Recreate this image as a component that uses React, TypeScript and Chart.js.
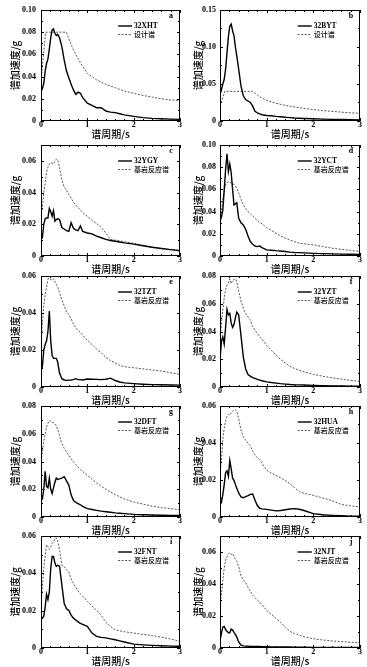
import React, { useEffect, useRef } from 'react';
import { Chart, registerables } from 'chart.js';

Chart.register(...registerables);

// Shared period grid (s)
const periods = [0, 0.03, 0.06, 0.09, 0.12, 0.15, 0.18, 0.21, 0.24, 0.27, 0.3, 0.33, 0.36, 0.4, 0.45, 0.5, 0.55, 0.6, 0.65, 0.7, 0.75, 0.8, 0.85, 0.9, 1.0, 1.1, 1.2, 1.3, 1.4, 1.5, 1.6, 1.7, 1.8, 2.0, 2.2, 2.4, 2.6, 2.8, 3.0];

// Design spectra (a, b)
const designPeriodsA = [0, 0.1, 0.55, 0.6, 0.7, 0.8, 0.9, 1.0, 1.2, 1.4, 1.6, 1.8, 2.0, 2.2, 2.4, 2.6, 2.8, 3.0];
const designA = [0.036, 0.08, 0.08, 0.074, 0.064, 0.056, 0.049, 0.043, 0.037, 0.033, 0.03, 0.027, 0.025, 0.023, 0.0215, 0.02, 0.019, 0.0185];
const designPeriodsB = [0, 0.1, 0.7, 0.8, 0.9, 1.0, 1.2, 1.4, 1.6, 1.8, 2.0, 2.2, 2.4, 2.6, 2.8, 3.0];
const designB = [0.02, 0.04, 0.04, 0.035, 0.031, 0.028, 0.024, 0.021, 0.019, 0.017, 0.0155, 0.014, 0.013, 0.012, 0.011, 0.0105];

// Station records
const recA = [0.027, 0.029, 0.034, 0.045, 0.052, 0.056, 0.065, 0.075, 0.082, 0.083, 0.079, 0.077, 0.078, 0.075, 0.067, 0.055, 0.045, 0.039, 0.033, 0.028, 0.024, 0.026, 0.025, 0.021, 0.016, 0.014, 0.012, 0.012, 0.009, 0.008, 0.0075, 0.0065, 0.0055, 0.0042, 0.003, 0.0024, 0.002, 0.0017, 0.0015];
const recB = [0.035, 0.042, 0.05, 0.056, 0.07, 0.092, 0.114, 0.128, 0.131, 0.122, 0.115, 0.1, 0.088, 0.07, 0.047, 0.034, 0.029, 0.027, 0.025, 0.02, 0.013, 0.011, 0.0095, 0.0085, 0.0075, 0.007, 0.0063, 0.0058, 0.005, 0.0045, 0.004, 0.0037, 0.0034, 0.003, 0.0026, 0.0022, 0.002, 0.0017, 0.0015];
const recC = [0.0105, 0.0115, 0.02, 0.0235, 0.024, 0.024, 0.03, 0.028, 0.025, 0.0285, 0.022, 0.023, 0.0235, 0.023, 0.018, 0.017, 0.016, 0.0155, 0.021, 0.0175, 0.0165, 0.016, 0.019, 0.0155, 0.0145, 0.014, 0.0125, 0.0115, 0.0105, 0.0098, 0.0093, 0.0088, 0.0083, 0.0075, 0.0065, 0.0055, 0.0047, 0.004, 0.0033];
const recD = [0.031, 0.035, 0.041, 0.059, 0.078, 0.092, 0.076, 0.083, 0.075, 0.06, 0.046, 0.047, 0.048, 0.034, 0.03, 0.028, 0.024, 0.018, 0.013, 0.0105, 0.009, 0.0085, 0.009, 0.0075, 0.0055, 0.0052, 0.0048, 0.0045, 0.004, 0.0035, 0.0032, 0.003, 0.0028, 0.0024, 0.0021, 0.0019, 0.0017, 0.0016, 0.0015];
const recE = [0.009, 0.011, 0.02, 0.023, 0.025, 0.03, 0.041, 0.025, 0.017, 0.0155, 0.0155, 0.0155, 0.0135, 0.0075, 0.0045, 0.0038, 0.0036, 0.0037, 0.0038, 0.004, 0.0045, 0.004, 0.004, 0.0038, 0.0043, 0.0042, 0.0041, 0.004, 0.0042, 0.0048, 0.0035, 0.0027, 0.0022, 0.0018, 0.0015, 0.0013, 0.0012, 0.0011, 0.001];
const recF = [0.019, 0.033, 0.036, 0.031, 0.043, 0.056, 0.052, 0.053, 0.046, 0.043, 0.045, 0.05, 0.054, 0.052, 0.037, 0.0216, 0.013, 0.009, 0.0078, 0.0068, 0.0062, 0.0055, 0.005, 0.0045, 0.0037, 0.0032, 0.0028, 0.0024, 0.0021, 0.0018, 0.0016, 0.0015, 0.0014, 0.0012, 0.001, 0.0008, 0.0007, 0.0006, 0.0005];
const recG = [0.012, 0.013, 0.02, 0.033, 0.022, 0.021, 0.028, 0.02, 0.017, 0.021, 0.025, 0.028, 0.027, 0.0275, 0.028, 0.029, 0.026, 0.023, 0.016, 0.012, 0.0105, 0.0097, 0.0088, 0.0077, 0.006, 0.0054, 0.0048, 0.0042, 0.0038, 0.0034, 0.003, 0.0027, 0.0024, 0.0019, 0.0016, 0.0014, 0.0013, 0.0012, 0.0012];
const recH = [0.0063, 0.0078, 0.012, 0.0175, 0.024, 0.025, 0.022, 0.0305, 0.026, 0.021, 0.0198, 0.0175, 0.0155, 0.013, 0.0108, 0.0104, 0.011, 0.0115, 0.0122, 0.0124, 0.009, 0.0062, 0.0047, 0.0044, 0.0041, 0.0037, 0.0033, 0.0035, 0.0039, 0.0043, 0.0045, 0.0042, 0.0035, 0.0018, 0.0012, 0.0009, 0.0007, 0.0005, 0.0004];
const recI = [0.0155, 0.016, 0.017, 0.022, 0.0288, 0.026, 0.03, 0.0427, 0.049, 0.049, 0.0455, 0.0437, 0.0443, 0.0438, 0.0338, 0.024, 0.021, 0.0202, 0.0176, 0.016, 0.015, 0.014, 0.0132, 0.0127, 0.0116, 0.008, 0.0062, 0.0057, 0.0054, 0.0049, 0.0044, 0.0038, 0.0032, 0.0021, 0.0017, 0.0014, 0.0012, 0.001, 0.0009];
const recJ = [0.0047, 0.009, 0.013, 0.0135, 0.0115, 0.0105, 0.0095, 0.0095, 0.0118, 0.0112, 0.0098, 0.0085, 0.0068, 0.0038, 0.0018, 0.0013, 0.0012, 0.0011, 0.001, 0.001, 0.0009, 0.0009, 0.0009, 0.0008, 0.0008, 0.0007, 0.0007, 0.0006, 0.0006, 0.0006, 0.0005, 0.0005, 0.0005, 0.0004, 0.0004, 0.0004, 0.0003, 0.0003, 0.0003];

// Bedrock response spectra (c - j)
const rockC = [0.027, 0.03, 0.04, 0.046, 0.053, 0.056, 0.058, 0.059, 0.0585, 0.058, 0.06, 0.061, 0.0605, 0.056, 0.048, 0.0435, 0.0415, 0.039, 0.0365, 0.034, 0.032, 0.0305, 0.029, 0.0275, 0.025, 0.0225, 0.0205, 0.018, 0.0145, 0.0105, 0.01, 0.0095, 0.009, 0.008, 0.0068, 0.0056, 0.0047, 0.004, 0.0035];
const rockD = [0.032, 0.04, 0.052, 0.059, 0.064, 0.066, 0.067, 0.0665, 0.066, 0.065, 0.0645, 0.063, 0.061, 0.057, 0.051, 0.046, 0.043, 0.04, 0.038, 0.036, 0.034, 0.032, 0.03, 0.029, 0.0255, 0.023, 0.0205, 0.018, 0.016, 0.0144, 0.013, 0.0115, 0.011, 0.01, 0.0085, 0.007, 0.006, 0.005, 0.0042];
const rockE = [0.024, 0.034, 0.044, 0.05, 0.054, 0.058, 0.06, 0.058, 0.0578, 0.0585, 0.0568, 0.0555, 0.054, 0.051, 0.047, 0.044, 0.0405, 0.039, 0.037, 0.034, 0.032, 0.0305, 0.0295, 0.028, 0.0252, 0.023, 0.0205, 0.0185, 0.016, 0.0143, 0.013, 0.0117, 0.011, 0.0104, 0.0098, 0.0092, 0.0086, 0.0077, 0.0068];
const rockF = [0.035, 0.045, 0.055, 0.064, 0.07, 0.0735, 0.075, 0.078, 0.0745, 0.0765, 0.0775, 0.078, 0.0757, 0.069, 0.062, 0.0565, 0.053, 0.0505, 0.0485, 0.0435, 0.041, 0.0385, 0.0362, 0.0345, 0.03, 0.0265, 0.023, 0.0198, 0.0172, 0.0149, 0.0133, 0.0121, 0.011, 0.0091, 0.0078, 0.0066, 0.0056, 0.0048, 0.004];
const rockG = [0.04, 0.047, 0.055, 0.06, 0.065, 0.0675, 0.0695, 0.069, 0.068, 0.068, 0.0672, 0.066, 0.063, 0.0585, 0.053, 0.0495, 0.047, 0.0445, 0.042, 0.0397, 0.0378, 0.036, 0.0342, 0.0328, 0.03, 0.0272, 0.0245, 0.0222, 0.02, 0.018, 0.0163, 0.0145, 0.013, 0.0108, 0.0093, 0.0078, 0.0068, 0.006, 0.0053];
const rockH = [0.0234, 0.03, 0.042, 0.048, 0.052, 0.0545, 0.0555, 0.055, 0.0565, 0.057, 0.0578, 0.058, 0.0573, 0.053, 0.047, 0.0432, 0.0415, 0.04, 0.0385, 0.0355, 0.0335, 0.032, 0.031, 0.029, 0.0253, 0.0237, 0.0225, 0.0212, 0.0197, 0.018, 0.0158, 0.0137, 0.0128, 0.0117, 0.0103, 0.0088, 0.0068, 0.006, 0.0054];
const rockI = [0.024, 0.033, 0.043, 0.0495, 0.0552, 0.0545, 0.0528, 0.054, 0.056, 0.0566, 0.0587, 0.059, 0.0575, 0.0525, 0.0445, 0.0436, 0.0418, 0.0408, 0.037, 0.0345, 0.0325, 0.0305, 0.029, 0.0278, 0.025, 0.0225, 0.0202, 0.0175, 0.0138, 0.0115, 0.0098, 0.0092, 0.0087, 0.008, 0.0073, 0.0066, 0.0058, 0.0048, 0.0036];
const rockJ = [0.0285, 0.033, 0.042, 0.05, 0.055, 0.057, 0.059, 0.0595, 0.0585, 0.059, 0.057, 0.0555, 0.054, 0.051, 0.045, 0.0425, 0.041, 0.038, 0.0355, 0.033, 0.0315, 0.03, 0.0287, 0.027, 0.0235, 0.021, 0.0185, 0.016, 0.013, 0.0103, 0.009, 0.008, 0.007, 0.0058, 0.005, 0.0044, 0.004, 0.0036, 0.0033];

const xTicks = [0, 1, 2, 3];
const xTitle = '谱周期/s';
const yTitle = '谱加速度/g';
const designName = '设计谱';
const rockName = '基岩反应谱';

const panels = [
  { letter: 'a', name: '32XHT', rec: recA, refName: designName, ref: designA, refT: designPeriodsA, yMax: 0.1, yStep: 0.02, yMinor: 0.01 },
  { letter: 'b', name: '32BYT', rec: recB, refName: designName, ref: designB, refT: designPeriodsB, yMax: 0.15, yStep: 0.05, yMinor: 0.025 },
  { letter: 'c', name: '32YGY', rec: recC, refName: rockName, ref: rockC, refT: periods, yMax: 0.07, yStep: 0.02, yMinor: 0.01 },
  { letter: 'd', name: '32YCT', rec: recD, refName: rockName, ref: rockD, refT: periods, yMax: 0.1, yStep: 0.02, yMinor: 0.01 },
  { letter: 'e', name: '32TZT', rec: recE, refName: rockName, ref: rockE, refT: periods, yMax: 0.06, yStep: 0.02, yMinor: 0.01 },
  { letter: 'f', name: '32YZT', rec: recF, refName: rockName, ref: rockF, refT: periods, yMax: 0.08, yStep: 0.02, yMinor: 0.01 },
  { letter: 'g', name: '32DFT', rec: recG, refName: rockName, ref: rockG, refT: periods, yMax: 0.08, yStep: 0.02, yMinor: 0.01 },
  { letter: 'h', name: '32HUA', rec: recH, refName: rockName, ref: rockH, refT: periods, yMax: 0.06, yStep: 0.02, yMinor: 0.01 },
  { letter: 'i', name: '32FNT', rec: recI, refName: rockName, ref: rockI, refT: periods, yMax: 0.06, yStep: 0.02, yMinor: 0.01 },
  { letter: 'j', name: '32NJT', rec: recJ, refName: rockName, ref: rockJ, refT: periods, yMax: 0.07, yStep: 0.02, yMinor: 0.01 },
];

const rowTop = [10, 145, 276, 406, 536];
const rowBottom = [121, 256, 387, 517, 648];

const SERIF = '"Liberation Serif", "Noto Sans CJK SC", serif';
const CJK = '"Noto Sans CJK SC", "Liberation Serif", sans-serif';
const DASH = [2, 1.5];

function PanelChart({ p, idx }: { p: any; idx: number }) {
  const ref = useRef<HTMLCanvasElement | null>(null);
  const col = idx % 2;
  const row = Math.floor(idx / 2);
  const T = rowTop[row];
  const B = rowBottom[row];
  const cx = col === 0 ? 0 : 183;
  const cw = col === 0 ? 183 : 184;
  const yW = col === 0 ? 41 : 37;
  const padR = col === 0 ? 3 : 7;
  const tickPad = col === 0 ? 5 : 4;
  const cy = T - 10;
  const ch = B + 19 - cy;

  useEffect(() => {
    const canvas = ref.current;
    if (!canvas) return;
    const deco = {
      id: 'deco',
      afterDatasetsDraw(chart: any) {
        const { ctx, chartArea } = chart;
        const { left, right, top, bottom } = chartArea;
        const xs = chart.scales.x;
        const ys = chart.scales.y;
        ctx.save();
        ctx.strokeStyle = '#000';
        ctx.lineWidth = 1;
        ctx.strokeRect(left + 0.5, top + 0.5, right - left - 1, bottom - top - 1);
        ctx.beginPath();
        for (let k = 0; k <= 15; k++) {
          const v = k * 0.2;
          const px = Math.round(xs.getPixelForValue(v)) + 0.5;
          const len = k % 5 === 0 ? 3 : 2;
          ctx.moveTo(px, bottom);
          ctx.lineTo(px, bottom - len);
          ctx.moveTo(px, top);
          ctx.lineTo(px, top + len);
        }
        const n = Math.round(p.yMax / p.yMinor);
        const per = Math.round(p.yStep / p.yMinor);
        for (let k = 0; k <= n; k++) {
          const v = k * p.yMinor;
          const py = Math.round(ys.getPixelForValue(v)) + 0.5;
          const len = k % per === 0 ? 3 : 2;
          ctx.moveTo(left, py);
          ctx.lineTo(left + len, py);
          ctx.moveTo(right, py);
          ctx.lineTo(right - len, py);
        }
        ctx.stroke();

        // legend
        const w = right - left;
        const lx0 = left + 0.555 * w;
        const lx1 = left + 0.655 * w;
        const ly1 = top + 16;
        const ly2 = top + 24.5;
        ctx.lineWidth = 1.4;
        ctx.beginPath();
        ctx.moveTo(lx0, ly1);
        ctx.lineTo(lx1, ly1);
        ctx.stroke();
        ctx.lineWidth = 1;
        ctx.strokeStyle = '#555';
        ctx.setLineDash(DASH);
        ctx.beginPath();
        ctx.moveTo(lx0, ly2);
        ctx.lineTo(lx1, ly2);
        ctx.stroke();
        ctx.setLineDash([]);
        ctx.fillStyle = '#000';
        ctx.textBaseline = 'middle';
        ctx.textAlign = 'left';
        ctx.font = 'bold 7.5px ' + SERIF;
        ctx.fillText(p.name, lx1 + 2, ly1);
        ctx.font = '500 7px ' + CJK;
        ctx.fillText(p.refName, lx1 + 2, ly2);
        // panel letter
        ctx.font = 'bold 8px ' + SERIF;
        ctx.textAlign = 'center';
        ctx.fillText(p.letter, right - 9, top + 6);
        ctx.restore();
      },
    };

    const chart = new Chart(canvas, {
      type: 'line',
      data: {
        datasets: [
          {
            label: p.name,
            data: periods.map((t, i) => ({ x: t, y: p.rec[i] })),
            borderColor: '#000',
            borderWidth: 1.4,
            pointRadius: 0,
            fill: false,
            tension: 0,
          },
          {
            label: p.refName,
            data: p.refT.map((t: number, i: number) => ({ x: t, y: p.ref[i] })),
            borderColor: '#555',
            borderWidth: 1,
            borderDash: DASH,
            pointRadius: 0,
            fill: false,
            tension: 0,
          },
        ],
      },
      options: {
        responsive: false,
        maintainAspectRatio: false,
        devicePixelRatio: 1,
        animation: false,
        events: [],
        layout: { padding: { left: 0, top: 10, right: padR, bottom: 0 } },
        plugins: { legend: { display: false }, tooltip: { enabled: false } },
        scales: {
          x: {
            type: 'linear',
            min: 0,
            max: 3,
            afterFit: (s: any) => { s.height = 19; },
            afterBuildTicks: (s: any) => { s.ticks = xTicks.map((v) => ({ value: v })); },
            ticks: {
              stepSize: 1,
              color: '#000',
              padding: 0,
              maxRotation: 0,
              font: { family: SERIF, size: 8, weight: 'bold', lineHeight: 1 },
              callback: (v: any) => String(v),
            },
            grid: { display: false, drawTicks: false },
            border: { display: false },
            title: {
              display: true,
              text: xTitle,
              color: '#000',
              font: { family: CJK, size: 10, weight: '500', lineHeight: 1 },
              padding: { top: 0, bottom: 1 },
            },
          },
          y: {
            type: 'linear',
            min: 0,
            max: p.yMax,
            afterFit: (s: any) => { s.width = yW; },
            ticks: {
              stepSize: p.yStep,
              color: '#000',
              padding: tickPad,
              font: { family: SERIF, size: 8, weight: 'bold', lineHeight: 1 },
              callback: (v: any) => {
                const r = v / p.yStep;
                if (Math.abs(r - Math.round(r)) > 1e-6) return '';
                if (Math.abs(v) < 1e-9) return '0';
                return Number(v).toFixed(2);
              },
            },
            grid: { display: false, drawTicks: false },
            border: { display: false },
            title: {
              display: true,
              text: yTitle,
              color: '#000',
              font: { family: CJK, size: 10, weight: '500', lineHeight: 1 },
              padding: { top: 10.5, bottom: 0 },
            },
          },
        },
      },
      plugins: [deco],
    } as any);
    return () => chart.destroy();
  }, []);

  return (
    <canvas
      ref={ref}
      width={cw}
      height={ch}
      style={{ position: 'absolute', left: cx, top: cy, width: cw, height: ch }}
    />
  );
}

export default function App() {
  return (
    <div style={{ position: 'absolute', left: 0, top: 0, width: 367, height: 667, background: '#fff', overflow: 'hidden' }}>
      {panels.map((p, i) => (
        <PanelChart key={p.letter} p={p} idx={i} />
      ))}
    </div>
  );
}
